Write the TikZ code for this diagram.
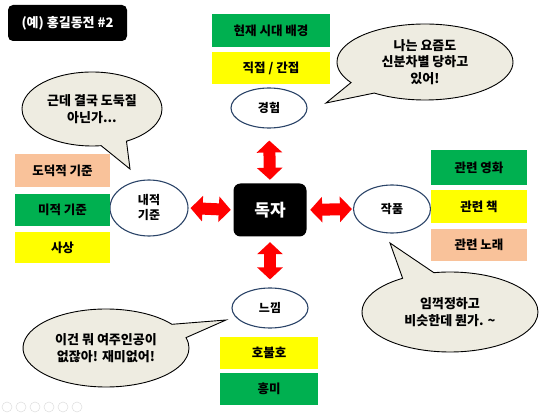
\documentclass[tikz,border=0pt]{standalone}
\usepackage{fontspec}
\setmainfont{Noto Sans CJK KR}
\usetikzlibrary{shapes.geometric,shapes.callouts,calc,arrows.meta}
\definecolor{bxgreen}{HTML}{00B050}
\definecolor{bxyellow}{HTML}{FFFF00}
\definecolor{bxsalmon}{HTML}{F9C29A}
\definecolor{bubblefill}{HTML}{EEECE1}
\definecolor{navy}{HTML}{2B4468}
\definecolor{arrred}{HTML}{FF0000}
\begin{document}
\begin{tikzpicture}[x=1pt,y=-1pt,
  box/.style={rectangle, inner sep=0pt, minimum width=96pt, minimum height=32pt,
    font=\fontsize{12.5}{14}\selectfont\bfseries},
  oval/.style={ellipse, draw=navy, line width=1.1pt, fill=white, inner sep=0pt,
    align=center, font=\fontsize{12}{15}\selectfont\bfseries},
  bub/.style={ellipse callout, draw=black, line width=0.9pt, fill=bubblefill,
    inner sep=0pt, align=center, callout pointer arc=22,
    font=\fontsize{13}{16.5}\selectfont\bfseries},
  blackbox/.style={rectangle, fill=black, text=white, inner sep=0pt, font=\bfseries},
  blockarr/.style={draw=arrred, line width=12pt, line cap=butt,
    {Triangle[width=25pt,length=12pt,fill=arrred]}-{Triangle[width=25pt,length=12pt,fill=arrred]}},
  tool/.style={circle, draw=black!12, line width=0.6pt, minimum size=10pt, inner sep=0pt}
]
\useasboundingbox (0,0) rectangle (550,414);

% title
\node[blackbox, rounded corners=5pt, minimum width=119pt, minimum height=36pt,
  font=\fontsize{13}{15}\selectfont\bfseries] (title) at (67.5,23) {(예) 홍길동전 \#2};

% centre
\node[blackbox, rounded corners=7pt, minimum width=73pt, minimum height=53pt,
  font=\fontsize{17}{19}\selectfont\bfseries] (reader) at (270,210) {독자};

% top
\node[box, fill=bxgreen, minimum width=118pt, minimum height=33pt] (bg) at (271,31) {현재 시대 배경};
\node[box, fill=bxyellow, minimum width=118pt, minimum height=32pt] (dir) at (271,68) {직접 / 간접};
\node[oval, minimum width=76pt, minimum height=40pt] (exp) at (269,108) {경험};

% left
\node[oval, minimum width=78pt, minimum height=56pt] (inner) at (149,208) {내적\\기준};
\node[box, fill=bxsalmon, minimum width=95pt, minimum height=33pt] (moral) at (62.5,170.5) {도덕적 기준};
\node[box, fill=bxgreen, minimum width=95pt, minimum height=32pt] (aesth) at (62.5,210) {미적 기준};
\node[box, fill=bxyellow, minimum width=95pt, minimum height=31pt] (idea) at (62.5,247.5) {사상};

% right
\node[oval, minimum width=77pt, minimum height=48pt] (work) at (392,209) {작품};
\node[box, fill=bxgreen, minimum width=96pt, minimum height=35pt] (movie) at (479,167.5) {관련 영화};
\node[box, fill=bxyellow, minimum width=96pt, minimum height=33pt] (book) at (479,206.5) {관련 책};
\node[box, fill=bxsalmon, minimum width=96pt, minimum height=32pt] (song) at (479,245) {관련 노래};

% bottom
\node[oval, minimum width=76pt, minimum height=40pt] (feel) at (270,308) {느낌};
\node[box, fill=bxyellow, minimum width=98pt, minimum height=32pt] (likes) at (269,353) {호불호};
\node[box, fill=bxgreen, minimum width=98pt, minimum height=32pt] (fun) at (269,389) {흥미};

% red double arrows
\draw[blockarr, shorten <=12pt, shorten >=3.5pt] (exp.south) -- (reader.north);
\draw[blockarr, shorten <=5.5pt, shorten >=8pt] (reader.south) -- (feel.north);
\draw[blockarr, shorten <=2pt, shorten >=2.5pt] (inner.east) -- (reader.west);
\draw[blockarr, shorten <=3.5pt, shorten >=1pt] (reader.east) -- (work.west);

% speech bubbles
\coordinate (t1) at (326,103);
\coordinate (t2) at (130,169);
\coordinate (t3) at (226,320);
\coordinate (t4) at (390,243);
\node[bub, minimum width=176pt, minimum height=76pt, callout absolute pointer=(t1)] (b1) at (425,62) {나는 요즘도\\신분차별 당하고\\있어!};
\node[bub, minimum width=140pt, minimum height=74pt, callout absolute pointer=(t2)] (b2) at (92,109) {근데 결국 도둑질\\아닌가...};
\node[bub, minimum width=166pt, minimum height=78pt, callout absolute pointer=(t3)] (b3) at (106,348) {이건 뭐 여주인공이\\없잖아! 재미없어!};
\node[bub, minimum width=176pt, minimum height=80pt, callout absolute pointer=(t4)] (b4) at (450,312) {임꺽정하고\\비슷한데 뭔가. \textasciitilde};

% faint toolbar icons
\foreach \i/\x in {1/7,2/21,3/35,4/49,5/63,6/77} {
  \node[tool] (tb\i) at (\x,407) {};
}
\end{tikzpicture}
\end{document}
